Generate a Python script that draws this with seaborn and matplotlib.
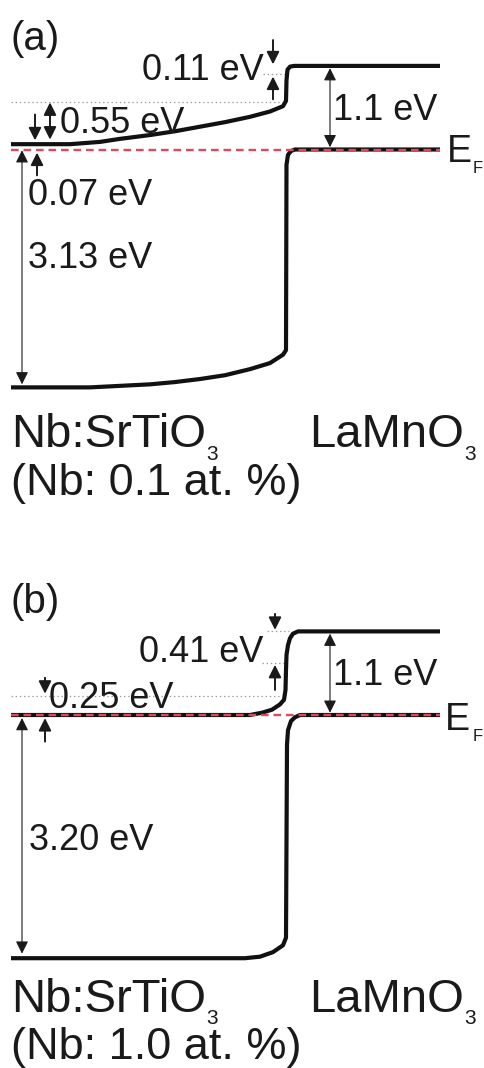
import matplotlib
matplotlib.use("Agg")
import matplotlib.pyplot as plt
import seaborn as sns

sns.set_theme(style="white")
plt.rcParams["font.family"] = ["Liberation Sans", "DejaVu Sans"]
plt.rcParams["lines.scale_dashes"] = False

# ---------------- data (x: position along the stack, E: energy in eV, EF = 0) --------------
# Panel (a)  Nb 0.1 at.%
a_cb_x = [11, 70, 100, 120, 150, 175, 200, 225, 250, 270, 283, 286, 286.5, 287.5, 290, 294, 440]
a_cb_e = [0.07, 0.07, 0.10, 0.14, 0.19, 0.24, 0.30, 0.36, 0.43, 0.50, 0.57, 0.64, 0.91, 1.05, 1.09, 1.10, 1.10]
a_vb_x = [11, 90, 120, 150, 175, 200, 225, 250, 270, 283, 286, 286.5, 288, 291, 295, 440]
a_vb_e = [-3.13, -3.13, -3.11, -3.09, -3.06, -3.02, -2.97, -2.89, -2.81, -2.70, -2.64, -0.20, -0.07, -0.02, 0.0, 0.0]
a_levels = [0.62, 0.99]            # dotted reference levels
a_labels = ["0.11 eV", "0.55 eV", "1.1 eV", "0.07 eV", "3.13 eV"]
a_doping = "(Nb: 0.1 at. %)"

# Panel (b)  Nb 1.0 at.%
b_cb_x = [11, 250, 262, 272, 280, 284, 285.5, 286, 286.5, 288, 290, 293, 298, 440]
b_cb_e = [0.0, 0.0, 0.03, 0.07, 0.14, 0.20, 0.33, 0.59, 0.79, 0.92, 1.01, 1.07, 1.10, 1.10]
b_vb_x = [11, 245, 260, 273, 283, 286, 287, 288, 291, 295, 300, 440]
b_vb_e = [-3.20, -3.20, -3.18, -3.12, -3.03, -2.93, -0.39, -0.20, -0.08, -0.03, 0.0, 0.0]
b_levels = [0.25, 0.69, 1.10]
b_labels = ["0.41 eV", "0.25 eV", "1.1 eV", "3.20 eV"]
b_doping = "(Nb: 1.0 at. %)"

materials = ["Nb:SrTiO", "LaMnO"]

ef_x = [11, 440]
ef_e = [0.0, 0.0]

# ---------------- figure ----------------
W, H = 485, 1068
fig = plt.figure(figsize=(W / 100, H / 100), dpi=100)
S = 76.0  # px per eV


def make_panel(rect, ef_px, top_px):
    ax = fig.add_axes(rect)
    ax.set_xlim(0, W)
    ax.set_ylim((ef_px - (top_px + H / 2)) / S, (ef_px - top_px) / S)
    ax.axis("off")
    return ax


axA = make_panel([0, 0.5, 1, 0.5], 149.5, 0)
axB = make_panel([0, 0.0, 1, 0.5], 715, 534)

ov = fig.add_axes([0, 0, 1, 1])
ov.set_xlim(0, W)
ov.set_ylim(H, 0)
ov.axis("off")
ov.patch.set_alpha(0)

INK = "#1a1a1a"
RED = "#dc4a5e"


def band(ax, x, e):
    sns.lineplot(x=x, y=e, ax=ax, sort=False, estimator=None, color="#111111",
                 linewidth=3.0, solid_capstyle="butt", solid_joinstyle="round",
                 legend=False, zorder=2)


def ef_line(ax):
    sns.lineplot(x=ef_x, y=ef_e, ax=ax, sort=False, estimator=None, color=RED,
                 linewidth=1.7, legend=False, zorder=4)
    ax.lines[-1].set_linestyle((0, (5.5, 3.5)))


def dotted(ax, x0, x1, e):
    sns.lineplot(x=[x0, x1], y=[e, e], ax=ax, sort=False, estimator=None,
                 color="#9a9a9a", linewidth=0.9, legend=False, zorder=1)
    ax.lines[-1].set_linestyle((0, (1, 2)))


def arrow(ax, x, e0, e1, style="-|>", lw=1.4, ms=15):
    ax.annotate("", xy=(x, e1), xytext=(x, e0),
                arrowprops=dict(arrowstyle=style + ",head_length=0.5,head_width=0.25",
                                lw=lw, color=INK, shrinkA=0, shrinkB=0,
                                mutation_scale=ms), zorder=5)


# ---- panel (a)
band(axA, a_cb_x, a_cb_e)
band(axA, a_vb_x, a_vb_e)
dotted(axA, 11, 279, a_levels[0])
dotted(axA, 263, 287, a_levels[1])
ef_line(axA)
arrow(axA, 273, 1.44, 1.12)
arrow(axA, 273, 0.66, 0.96)
arrow(axA, 50, 0.13, 0.62, "<|-|>")
arrow(axA, 35, 0.46, 0.12)
arrow(axA, 37, -0.34, -0.04)
arrow(axA, 22, -0.01, -3.09, "<|-|>", lw=0.8, ms=15)
arrow(axA, 330, 1.07, 0.03, "<|-|>", lw=0.8, ms=15)

# ---- panel (b)
band(axB, b_cb_x, b_cb_e)
band(axB, b_vb_x, b_vb_e)
dotted(axB, 11, 280, b_levels[0])
dotted(axB, 262, 285, b_levels[1])
dotted(axB, 267, 289, b_levels[2])
ef_line(axB)
arrow(axB, 275, 1.33, 1.12)
arrow(axB, 275, 0.33, 0.66)
arrow(axB, 45, 0.49, 0.28)
arrow(axB, 45, -0.35, -0.04)
arrow(axB, 22, -0.04, -3.14, "<|-|>", lw=0.8, ms=15)
arrow(axB, 330, 1.07, 0.03, "<|-|>", lw=0.8, ms=15)


# ---------------- text (pixel coordinates, baseline) ----------------
def ptext(x, y, s, size, ha="left"):
    return ov.text(x, y, s, fontsize=size, ha=ha, va="baseline", color=INK)


LBL = 34
DOP = 32.5
ANN = 26
SUB = 15

# (a)
ptext(11, 50, "(a)", 29)
ptext(264, 80, a_labels[0], ANN, ha="right")
ptext(60, 133, a_labels[1], ANN)
ptext(333, 120, a_labels[2], ANN)
ptext(28, 205, a_labels[3], ANN)
ptext(28, 268, a_labels[4], ANN)
ptext(447, 162, "E", 27)
ptext(473, 173, "F", 12)
mats = [ptext(11, 447, materials[0], LBL), ptext(309, 447, materials[1], LBL)]
ptext(11, 495, a_doping, DOP)

# (b)
ptext(11, 613, "(b)", 29)
ptext(263, 662, b_labels[0], ANN, ha="right")
ptext(49, 708, b_labels[1], ANN)
ptext(333, 685, b_labels[2], ANN)
ptext(29, 850, b_labels[3], ANN)
ptext(445, 730, "E", 27)
ptext(473, 741, "F", 12)
mats += [ptext(11, 1012, materials[0], LBL), ptext(309, 1012, materials[1], LBL)]
ptext(11, 1059, b_doping, DOP)

# subscripts "3" placed right after each formula
fig.canvas.draw()
rend = fig.canvas.get_renderer()
sub_base = [460, 460, 1024, 1024]
for t, yb in zip(mats, sub_base):
    bb = t.get_window_extent(rend)
    ptext(bb.x1 + 0.5, yb, "3", SUB)

fig.savefig("out.png", dpi=100, facecolor="white")
